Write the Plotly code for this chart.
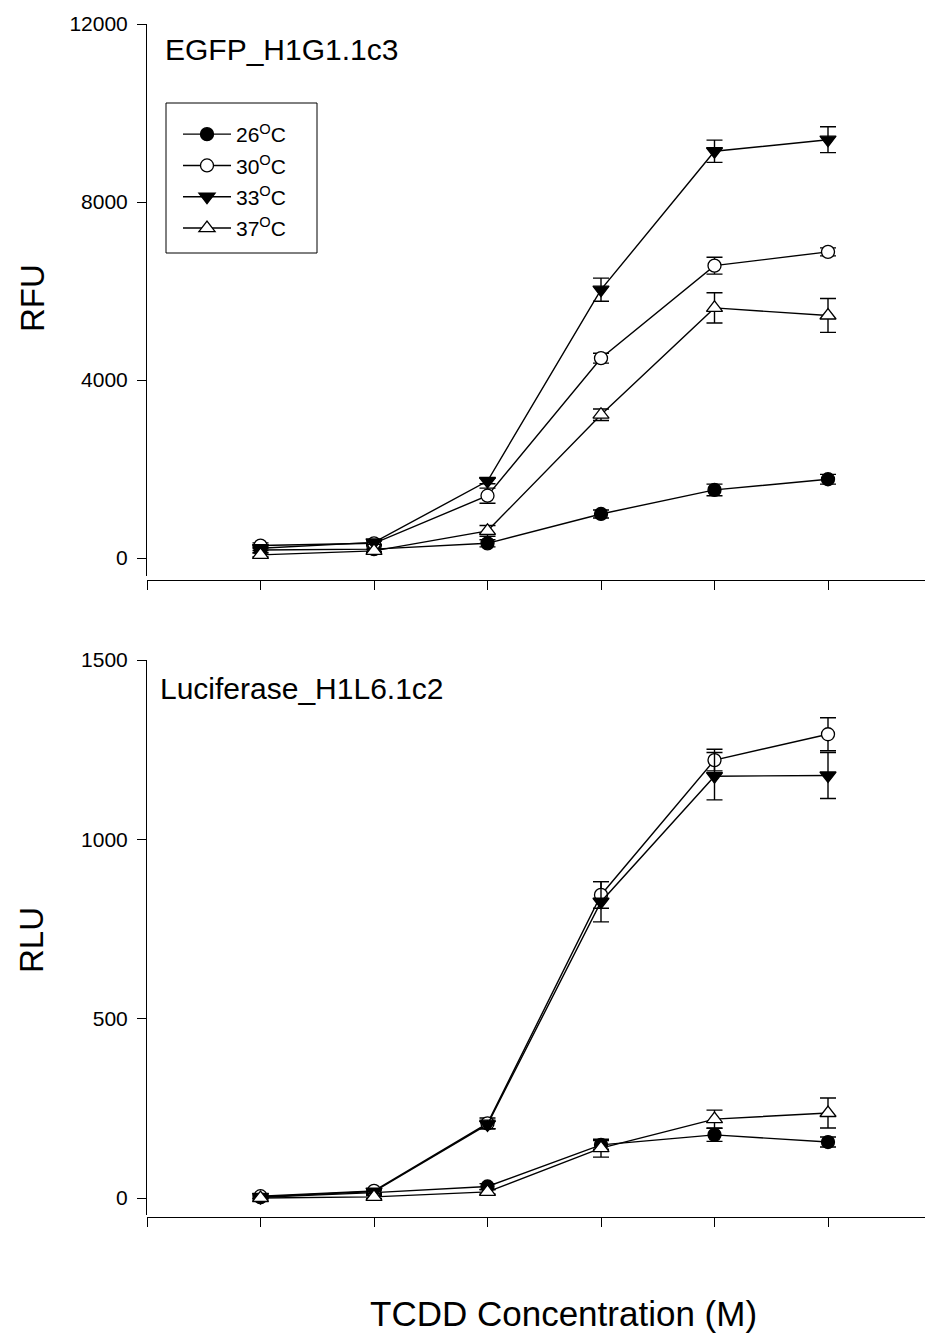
import plotly.graph_objects as go

# ---------------- data ----------------
x_pos = [1, 2, 3, 4, 5, 6]
temps = ["26<sup>O</sup>C", "30<sup>O</sup>C", "33<sup>O</sup>C", "37<sup>O</sup>C"]

# Top panel: EGFP (RFU)
rfu_26 = [180, 200, 330, 990, 1530, 1770]
rfu_26_err = [60, 50, 80, 90, 130, 110]
rfu_30 = [280, 330, 1400, 4490, 6570, 6880]
rfu_30_err = [60, 50, 170, 110, 190, 90]
rfu_33 = [220, 350, 1730, 6030, 9140, 9400]
rfu_33_err = [50, 40, 60, 260, 250, 290]
rfu_37 = [70, 160, 610, 3220, 5620, 5450]
rfu_37_err = [40, 40, 120, 130, 340, 380]

# Bottom panel: Luciferase (RLU)
rlu_26 = [2, 15, 32, 148, 176, 156]
rlu_26_err = [4, 5, 8, 12, 18, 14]
rlu_30 = [5, 20, 208, 845, 1221, 1293]
rlu_30_err = [5, 6, 15, 37, 30, 46]
rlu_33 = [3, 18, 205, 826, 1176, 1178]
rlu_33_err = [4, 5, 12, 56, 66, 64]
rlu_37 = [0, 3, 17, 139, 220, 237]
rlu_37_err = [3, 4, 6, 25, 25, 42]

rfu_ticks = [0, 4000, 8000, 12000]
rlu_ticks = [0, 500, 1000, 1500]
x_ticks = [0, 1, 2, 3, 4, 5, 6]

# ---------------- layout helpers ----------------
OFF = 8                      # default body margin of the html page
W, H = 933 - OFF, 1334 - OFF
ML = 147 - OFF
PW = W - ML


def px(xp):
    """page x pixel -> paper fraction"""
    return (xp - OFF - ML) / PW


def py(yp):
    """page y pixel -> paper fraction"""
    return 1 - (yp - OFF) / H


FONT = "Liberation Sans, Arial, sans-serif"

markers = [
    dict(symbol="circle", color="black", size=13, line=dict(color="black", width=1.3)),
    dict(symbol="circle", color="white", size=13, line=dict(color="black", width=1.3)),
    dict(symbol="triangle-down", color="black", size=14, line=dict(color="black", width=1.3)),
    dict(symbol="triangle-up", color="white", size=14, line=dict(color="black", width=1.3)),
]

top_series = [(rfu_26, rfu_26_err), (rfu_30, rfu_30_err), (rfu_33, rfu_33_err), (rfu_37, rfu_37_err)]
bot_series = [(rlu_26, rlu_26_err), (rlu_30, rlu_30_err), (rlu_33, rlu_33_err), (rlu_37, rlu_37_err)]

fig = go.Figure()

for i, (vals, err) in enumerate(top_series):
    fig.add_trace(go.Scatter(
        x=x_pos, y=vals, mode="lines+markers", name=temps[i],
        legendgroup="g%d" % i,
        line=dict(color="black", width=1.4),
        marker=markers[i],
        error_y=dict(type="data", array=err, visible=True, color="black", thickness=1.4, width=8),
        xaxis="x", yaxis="y", showlegend=True,
    ))

for i, (vals, err) in enumerate(bot_series):
    fig.add_trace(go.Scatter(
        x=x_pos, y=vals, mode="lines+markers", name=temps[i],
        legendgroup="g%d" % i,
        line=dict(color="black", width=1.4),
        marker=markers[i],
        error_y=dict(type="data", array=err, visible=True, color="black", thickness=1.4, width=8),
        xaxis="x2", yaxis="y2", showlegend=False,
    ))

# y ranges derived from pixel layout (page pixels)
top_y0, top_y1 = 24, 576
bot_y0, bot_y1 = 660, 1215
top_scale = (558 - 24) / 12000.0
bot_scale = (1198 - 660) / 1500.0
top_range = [-(top_y1 - 558) / top_scale, 12000]
bot_range = [-(bot_y1 - 1198) / bot_scale, 1500]

x_range = [0, PW / 113.5]

line_common = dict(showgrid=False, zeroline=False, showline=True, linecolor="black",
                   linewidth=1, ticks="outside", tickcolor="black", tickwidth=1,
                   automargin=False)
tickfont = dict(family=FONT, size=21, color="black")

fig.update_layout(
    width=W, height=H,
    margin=dict(l=ML, r=0, t=0, b=0, autoexpand=False),
    paper_bgcolor="white", plot_bgcolor="white",
    showlegend=True,
    xaxis=dict(domain=[0, 1], range=x_range, anchor="free", position=py(580),
               tickvals=x_ticks, showticklabels=False, ticklen=9, **line_common),
    yaxis=dict(domain=[py(top_y1), py(top_y0)], range=top_range, anchor="x",
               tickvals=rfu_ticks, ticktext=[str(t) for t in rfu_ticks], ticklen=9,
               tickfont=tickfont, ticklabelstandoff=5, **line_common),
    xaxis2=dict(domain=[0, 1], range=x_range, anchor="free", position=py(1217),
                tickvals=x_ticks, showticklabels=False, ticklen=9, **line_common),
    yaxis2=dict(domain=[py(bot_y1), py(bot_y0)], range=bot_range, anchor="x2",
                tickvals=rlu_ticks, ticktext=[str(t) for t in rlu_ticks], ticklen=9,
                tickfont=tickfont, ticklabelstandoff=5, **line_common),
    legend=dict(x=px(178), y=py(114), xanchor="left", yanchor="top",
                bgcolor="rgba(0,0,0,0)", borderwidth=0,
                font=dict(family=FONT, size=21, color="black"),
                traceorder="grouped", tracegroupgap=1, itemwidth=48),
    shapes=[dict(type="rect", xref="paper", yref="paper",
                 x0=px(166), x1=px(317), y0=py(253), y1=py(103),
                 line=dict(color="black", width=1), fillcolor="rgba(0,0,0,0)", layer="below")],
    annotations=[
        dict(text="EGFP_H1G1.1c3", xref="paper", yref="paper", x=px(163), y=py(49),
             xanchor="left", yanchor="middle", showarrow=False,
             font=dict(family=FONT, size=30, color="black")),
        dict(text="Luciferase_H1L6.1c2", xref="paper", yref="paper", x=px(158), y=py(689),
             xanchor="left", yanchor="middle", showarrow=False,
             font=dict(family=FONT, size=30, color="black")),
        dict(text="RFU", xref="paper", yref="paper", x=px(32), y=py(298), textangle=-90,
             xanchor="center", yanchor="middle", showarrow=False,
             font=dict(family=FONT, size=33, color="black")),
        dict(text="RLU", xref="paper", yref="paper", x=px(32), y=py(940), textangle=-90,
             xanchor="center", yanchor="middle", showarrow=False,
             font=dict(family=FONT, size=33, color="black")),
        dict(text="TCDD Concentration (M)", xref="paper", yref="paper", x=px(563), y=py(1313),
             xanchor="center", yanchor="middle", showarrow=False,
             font=dict(family=FONT, size=35, color="black")),
    ],
)

fig.write_html("out.html")
